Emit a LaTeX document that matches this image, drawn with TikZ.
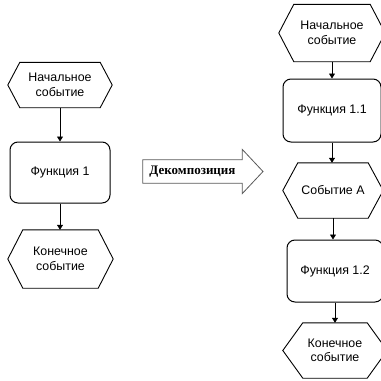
\documentclass[tikz,border=0pt]{standalone}
\usepackage{fontspec}
\setmainfont{Liberation Sans}
\newfontfamily\serifbold{Liberation Serif}
\usetikzlibrary{arrows.meta}
\begin{document}
\begin{tikzpicture}[x=1pt,y=-1pt,
  every node/.style={inner sep=0pt, align=center, font=\fontsize{12.4}{14.5}\selectfont},
  funcbox/.style={draw=black, line width=1pt, rounded corners=8pt},
  eventbox/.style={draw=none},
  hexline/.style={draw=black, line width=0.9pt, line join=miter},
  flow/.style={draw=black, line width=0.8pt, -{Triangle[width=6pt,length=5pt]}},
  bigarrow/.style={draw=black!65, line width=0.8pt, fill=white},
  decfont/.style={font=\serifbold\bfseries\fontsize{13}{15}\selectfont}
]
\useasboundingbox (0,0) rectangle (381,381);

% left chain
\node[eventbox, minimum width=104pt, minimum height=45pt] (s1) at (60,85) {Начальное\\событие};
\node[funcbox, minimum width=100pt, minimum height=61pt] (f1) at (60,172.5) {Функция 1};
\node[eventbox, minimum width=105pt, minimum height=58pt] (e1) at (60.5,259) {Конечное\\событие};

% right chain
\node[eventbox, minimum width=106pt, minimum height=57pt] (s2) at (332,33) {Начальное\\событие};
\node[funcbox, minimum width=98pt, minimum height=63pt] (f11) at (332,110.5) {Функция 1.1};
\node[eventbox, minimum width=100pt, minimum height=55pt] (a) at (333,190.5) {Событие А};
\node[funcbox, minimum width=96pt, minimum height=62pt] (f12) at (335,271) {Функция 1.2};
\node[eventbox, minimum width=104pt, minimum height=55pt] (e2) at (335,350.5) {Конечное\\событие};

% hexagon outlines of the events
\foreach \n/\d in {s1/12, e1/15, s2/15, a/15, e2/20}{
  \draw[hexline] (\n.west) -- ([xshift=\d pt]\n.north west) -- ([xshift=-\d pt]\n.north east)
    -- (\n.east) -- ([xshift=-\d pt]\n.south east) -- ([xshift=\d pt]\n.south west) -- cycle;
}

% decomposition arrow
\node[minimum width=99pt, minimum height=23pt] (dec) at (192.5,171.5) {};
\coordinate (tip) at (263,171.5);
\draw[bigarrow] (dec.north west) -- (dec.north east) -- ([yshift=10.5pt]dec.north east)
  -- (tip) -- ([yshift=-10.5pt]dec.south east) -- (dec.south east) -- (dec.south west) -- cycle;
\node[decfont] (dectext) at (dec) {Декомпозиция};

% flow connectors
\draw[flow] (s1.south) -- (f1.north);
\draw[flow] (f1.south) -- (e1.north -| f1.south);
\draw[flow] (s2.south -| f11.north) -- (f11.north);
\draw[flow] (f11.south) -- (a.north -| f11.south);
\draw[flow] (a.south -| 333,0) -- (f12.north -| 333,0);
\draw[flow] (f12.south) -- (e2.north -| f12.south);
\end{tikzpicture}
\end{document}
